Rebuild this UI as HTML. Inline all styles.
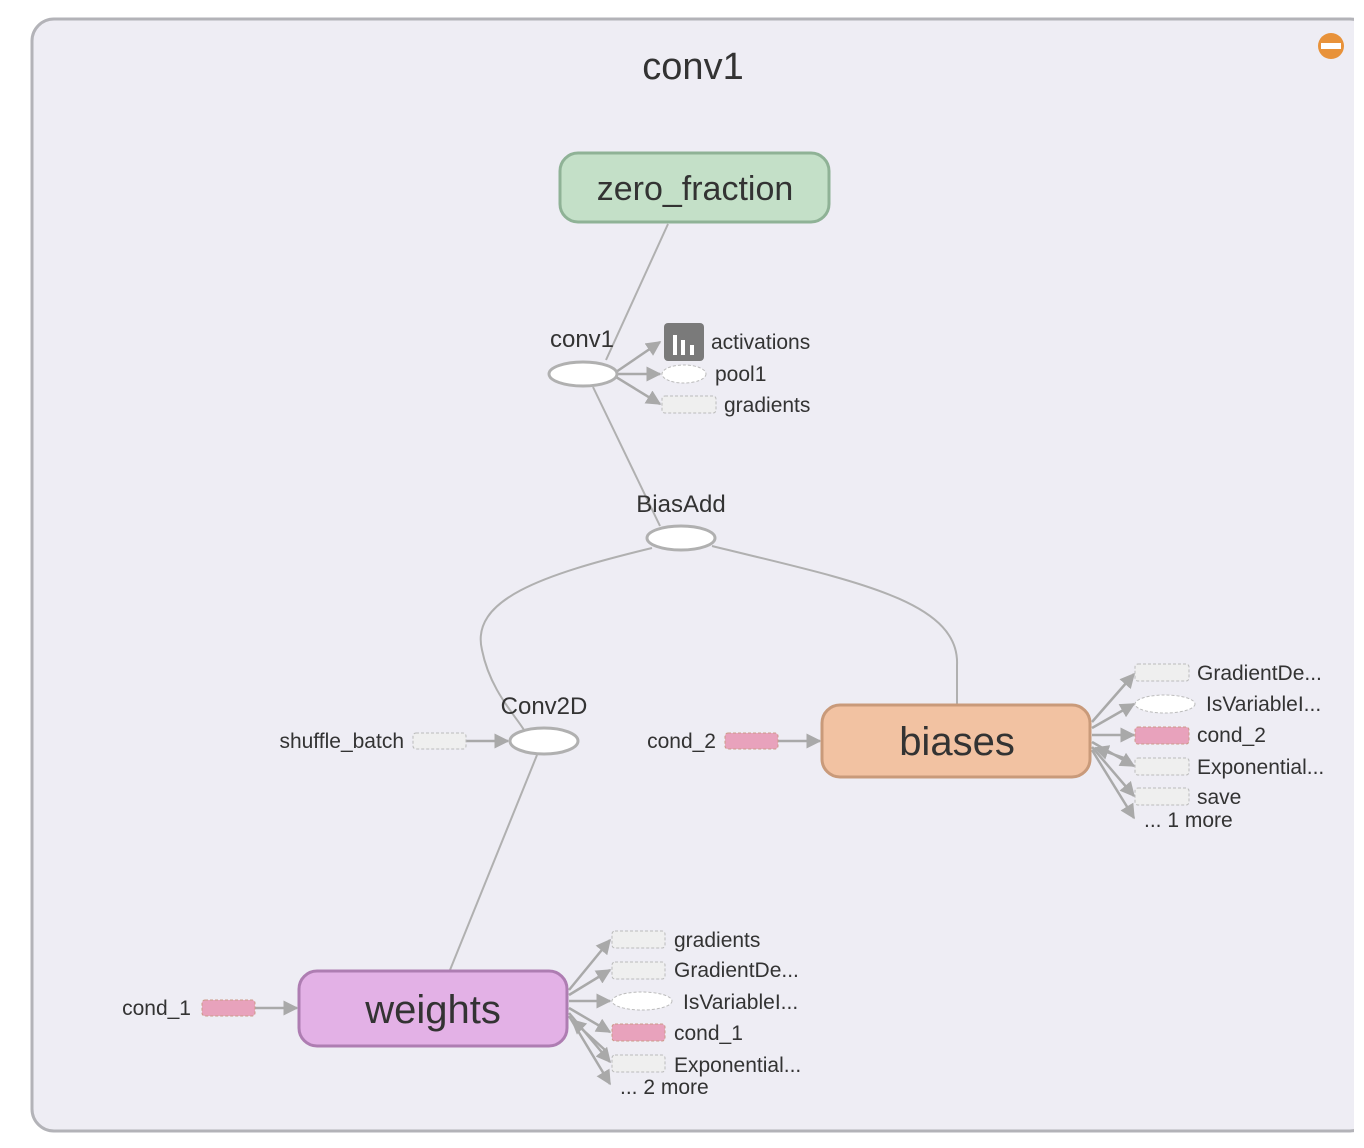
<!DOCTYPE html>
<html><head><style>
html,body{margin:0;padding:0;background:#fff;}
svg{display:block;font-family:"Liberation Sans",sans-serif;}
</style></head><body>
<svg width="1364" height="1148" viewBox="0 0 1364 1148" xmlns="http://www.w3.org/2000/svg">
<defs>
<marker id="a" viewBox="0 0 10 10" refX="9" refY="5" markerWidth="6" markerHeight="6" orient="auto"><path d="M0,0L10,5L0,10z" fill="#a9a9a9"/></marker>
</defs>
<rect x="32" y="19" width="1340" height="1112" rx="22" fill="#eeedf4" stroke="#b3b3b8" stroke-width="3"/>
<rect x="1354" y="0" width="10" height="1148" fill="#fff"/>
<circle cx="1331" cy="46" r="13" fill="#e8923a"/>
<rect x="1321" y="43" width="20" height="6" fill="#fff"/>
<text x="693" y="79" font-size="38" text-anchor="middle" fill="#333">conv1</text>

<g fill="none" stroke="#b0b0b0" stroke-width="2">
<line x1="668" y1="224" x2="606" y2="360"/>
<line x1="593" y1="387" x2="660" y2="526"/>
<path d="M652,548 C540,575 470,600 482,650 C490,690 515,715 524,730"/>
<path d="M712,546 C850,580 960,600 957,665 L957,704"/>
<line x1="537" y1="755" x2="450" y2="970"/>
</g>
<g fill="none" stroke="#a9a9a9" stroke-width="2.5" marker-end="url(#a)">
<line x1="616" y1="372" x2="660" y2="342"/>
<line x1="617" y1="374" x2="660" y2="374"/>
<line x1="616" y1="377" x2="660" y2="404"/>
<line x1="466" y1="741" x2="508" y2="741"/>
<line x1="778" y1="741" x2="820" y2="741"/>
<line x1="255" y1="1008" x2="297" y2="1008"/>
<line x1="1092" y1="722" x2="1134" y2="674"/>
<line x1="1092" y1="728" x2="1134" y2="704"/>
<line x1="1092" y1="735" x2="1134" y2="735"/>
<line x1="1092" y1="742" x2="1134" y2="766"/>
<line x1="1092" y1="747" x2="1134" y2="796"/>
<line x1="1092" y1="750" x2="1134" y2="818"/>
<line x1="1130" y1="760" x2="1095" y2="748"/>
<line x1="569" y1="990" x2="610" y2="940"/>
<line x1="569" y1="995" x2="610" y2="970"/>
<line x1="569" y1="1001" x2="610" y2="1001"/>
<line x1="569" y1="1008" x2="610" y2="1032"/>
<line x1="569" y1="1013" x2="610" y2="1062"/>
<line x1="569" y1="1016" x2="610" y2="1084"/>
<line x1="605" y1="1050" x2="572" y2="1020"/>
</g>

<rect x="560" y="153" width="269" height="69" rx="18" fill="#c4e0c8" stroke="#8fb296" stroke-width="3"/>
<text x="695" y="200" font-size="34" text-anchor="middle" fill="#333">zero_fraction</text>

<ellipse cx="583" cy="374" rx="34" ry="12" fill="#fff" stroke="#b0b0b0" stroke-width="3"/>
<text x="582" y="347" font-size="24" text-anchor="middle" fill="#333">conv1</text>
<rect x="664" y="323" width="40" height="38" rx="4" fill="#7a7a7a"/>
<rect x="673" y="335" width="4" height="20" fill="#fff"/><rect x="681" y="340" width="4" height="15" fill="#fff"/><rect x="690" y="345" width="4" height="10" fill="#fff"/>
<text x="711" y="349" font-size="21" fill="#333">activations</text>
<ellipse cx="684" cy="374" rx="22" ry="9" fill="#fff" stroke="#bbb" stroke-dasharray="3,2"/>
<text x="715" y="381" font-size="21" fill="#333">pool1</text>
<rect x="662" y="396" width="54" height="17" rx="3" fill="#efefef" stroke="#bbb" stroke-dasharray="3,2"/>
<text x="724" y="412" font-size="21" fill="#333">gradients</text>

<ellipse cx="681" cy="538" rx="34" ry="12" fill="#fff" stroke="#b0b0b0" stroke-width="3"/>
<text x="681" y="512" font-size="24" text-anchor="middle" fill="#333">BiasAdd</text>

<ellipse cx="544" cy="741" rx="34" ry="13" fill="#fff" stroke="#b0b0b0" stroke-width="3"/>
<text x="544" y="714" font-size="24" text-anchor="middle" fill="#333">Conv2D</text>
<text x="404" y="748" font-size="21" text-anchor="end" fill="#333">shuffle_batch</text>
<rect x="413" y="733" width="53" height="16" rx="3" fill="#efefef" stroke="#bbb" stroke-dasharray="3,2"/>
<text x="716" y="748" font-size="21" text-anchor="end" fill="#333">cond_2</text>
<rect x="725" y="733" width="53" height="16" rx="3" fill="#e8a2bc" stroke="#c98" stroke-dasharray="3,2"/>

<rect x="822" y="705" width="268" height="72" rx="18" fill="#f2c2a2" stroke="#c99a7a" stroke-width="3"/>
<text x="957" y="755" font-size="40" text-anchor="middle" fill="#333">biases</text>

<g font-size="21" fill="#333">
<rect x="1135" y="664" width="54" height="17" rx="3" fill="#efefef" stroke="#bbb" stroke-dasharray="3,2"/>
<text x="1197" y="680">GradientDe...</text>
<ellipse cx="1165" cy="704" rx="30" ry="9" fill="#fff" stroke="#bbb" stroke-dasharray="3,2"/>
<text x="1206" y="711">IsVariableI...</text>
<rect x="1135" y="727" width="54" height="17" rx="3" fill="#e8a2bc" stroke="#c98" stroke-dasharray="3,2"/>
<text x="1197" y="742">cond_2</text>
<rect x="1135" y="758" width="54" height="17" rx="3" fill="#efefef" stroke="#bbb" stroke-dasharray="3,2"/>
<text x="1197" y="774">Exponential...</text>
<rect x="1135" y="788" width="54" height="17" rx="3" fill="#efefef" stroke="#bbb" stroke-dasharray="3,2"/>
<text x="1197" y="804">save</text>
<text x="1144" y="827">... 1 more</text>
</g>

<text x="191" y="1015" font-size="21" text-anchor="end" fill="#333">cond_1</text>
<rect x="202" y="1000" width="53" height="16" rx="3" fill="#e8a2bc" stroke="#c98" stroke-dasharray="3,2"/>
<rect x="299" y="971" width="268" height="75" rx="18" fill="#e3b1e6" stroke="#ae7db2" stroke-width="3"/>
<text x="433" y="1023" font-size="40" text-anchor="middle" fill="#333">weights</text>

<g font-size="21" fill="#333">
<rect x="612" y="931" width="53" height="17" rx="3" fill="#efefef" stroke="#bbb" stroke-dasharray="3,2"/>
<text x="674" y="947">gradients</text>
<rect x="612" y="962" width="53" height="17" rx="3" fill="#efefef" stroke="#bbb" stroke-dasharray="3,2"/>
<text x="674" y="977">GradientDe...</text>
<ellipse cx="642" cy="1001" rx="30" ry="9" fill="#fff" stroke="#bbb" stroke-dasharray="3,2"/>
<text x="683" y="1009">IsVariableI...</text>
<rect x="612" y="1024" width="53" height="17" rx="3" fill="#e8a2bc" stroke="#c98" stroke-dasharray="3,2"/>
<text x="674" y="1040">cond_1</text>
<rect x="612" y="1055" width="53" height="17" rx="3" fill="#efefef" stroke="#bbb" stroke-dasharray="3,2"/>
<text x="674" y="1072">Exponential...</text>
<text x="620" y="1094">... 2 more</text>
</g>
</svg>
</body></html>
